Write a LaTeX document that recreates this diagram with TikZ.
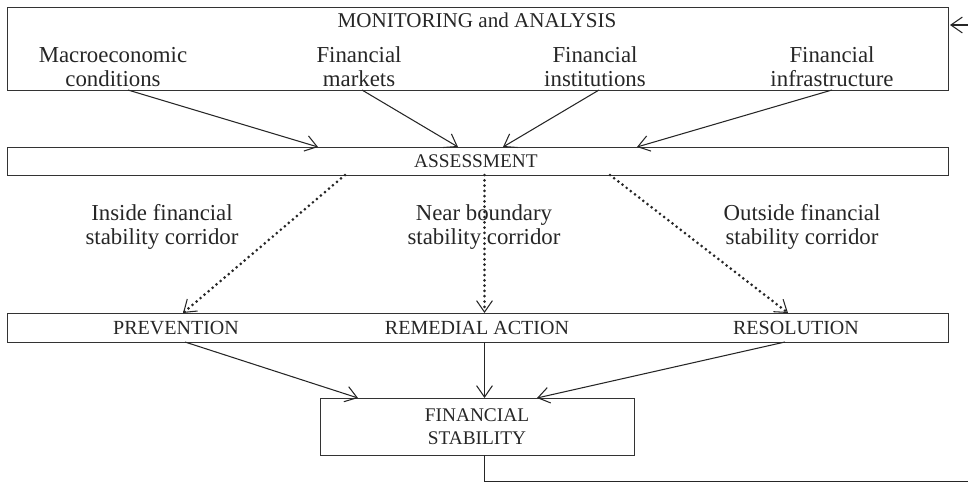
\documentclass[tikz,border=0pt]{standalone}
\usepackage{fontspec}
\setmainfont{Liberation Serif}
\usetikzlibrary{arrows.meta}
\begin{document}
\begin{tikzpicture}[x=0.02cm,y=-0.02cm,
  box/.style={draw=black!80, line width=0.75pt, inner sep=0pt, anchor=north west},
  lbl/.style={font=\fontsize{13}{13.6}\selectfont, align=center, inner sep=0pt, text=black!85},
  caps/.style={lbl, font=\fontsize{11.4}{13.6}\selectfont},
  arr/.style={draw=black!85, line width=0.6pt, -{Straight Barb[length=6.5pt,width=9pt,line width=0.6pt]}},
  dotarr/.style={arr, line width=1.7pt, dash pattern=on 0pt off 3pt, line cap=round},
]
\clip (0,0) rectangle (968,484);
\useasboundingbox (0,0) rectangle (968,484);
% boxes
\node[box, minimum width=18.82cm, minimum height=1.66cm] (mon) at (7,7) {};
\node[box, minimum width=18.82cm, minimum height=0.56cm] (ass) at (7,147) {};
\node[box, minimum width=18.82cm, minimum height=0.58cm] (act) at (7,313) {};
\node[box, minimum width=6.28cm, minimum height=1.14cm] (fs) at (320,398) {};
% texts
\node[lbl, font=\fontsize{12}{13.6}\selectfont] (title) at (477,20) {MONITORING and ANALYSIS};
\node[lbl] (mac) at (113,67) {Macroeconomic\\conditions};
\node[lbl] (mkt) at (359,67) {Financial\\markets};
\node[lbl] (ins) at (595,67) {Financial\\institutions};
\node[lbl] (inf) at (832,67) {Financial\\infrastructure};
\node[caps, font=\fontsize{11}{13.6}\selectfont] (asst) at (476,161) {ASSESSMENT};
\node[lbl] (in) at (162,227) {Inside financial\\stability corridor};
\node[lbl] (near) at (484,227) {Near boundary\\stability corridor};
\node[lbl] (out) at (802,227) {Outside financial\\stability corridor};
\node[caps] (prev) at (176,328) {PREVENTION};
\node[caps] (rem) at (477,328) {REMEDIAL ACTION};
\node[caps] (res) at (796,328) {RESOLUTION};
\node[caps, font=\fontsize{11}{13.2}\selectfont] (fst) at (477,427) {FINANCIAL\\STABILITY};
% connector end points on box borders
\coordinate (m1) at (128,90);
\coordinate (m2) at (362,90);
\coordinate (m3) at (599,90);
\coordinate (m4) at (832,90);
\coordinate (a1) at (318,147);
\coordinate (a2) at (458,147);
\coordinate (a3) at (503,147);
\coordinate (a4) at (637,147);
\coordinate (b1) at (345,175);
\coordinate (b2) at (484.5,175);
\coordinate (b3) at (610,175);
\coordinate (c1) at (183,313);
\coordinate (c2) at (484.5,313);
\coordinate (c3) at (788,313);
\coordinate (d1) at (185,342);
\coordinate (d2) at (484.5,342);
\coordinate (d3) at (785,342);
\coordinate (f1) at (358,398);
\coordinate (f2) at (484.5,398);
\coordinate (f3) at (537,398);
\coordinate (fsout) at (484.5,455);
\coordinate (corner) at (985,481.5);
\coordinate (monin) at (950,25);
% connectors
\draw[arr] (m1) -- (a1);
\draw[arr] (m2) -- (a2);
\draw[arr] (m3) -- (a3);
\draw[arr] (m4) -- (a4);
\draw[dotarr] (b1) -- (c1);
\draw[dotarr] (b2) -- (c2);
\draw[dotarr] (b3) -- (c3);
\draw[arr] (d1) -- (f1);
\draw[arr] (d2) -- (f2);
\draw[arr] (d3) -- (f3);
\draw[arr] (fsout) |- (corner) |- (monin);
\end{tikzpicture}
\end{document}
